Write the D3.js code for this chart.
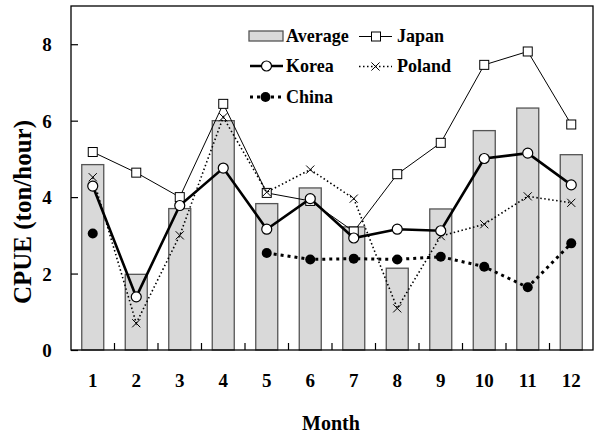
<!DOCTYPE html>
<html>
<head>
<meta charset="utf-8">
<script src="https://cdn.jsdelivr.net/npm/d3@7"></script>
<style>
  html, body { margin: 0; padding: 0; background: #fff; }
  svg { display: block; }
  text { font-family: "Liberation Serif", "Times New Roman", serif; font-weight: bold; fill: #000; }
</style>
</head>
<body>
<svg id="chart" width="594" height="434"></svg>
<script>
// Monthly CPUE (ton/hour) by fleet
const months = [1, 2, 3, 4, 5, 6, 7, 8, 9, 10, 11, 12];
const average = [4.85, 1.98, 3.7, 6.0, 3.83, 4.24, 3.22, 2.14, 3.69, 5.74, 6.33, 5.11];
const japan   = [5.18, 4.64, 4.0, 6.44, 4.11, 3.9, 3.1, 4.6, 5.42, 7.46, 7.81, 5.9];
const korea   = [4.29, 1.39, 3.78, 4.76, 3.16, 3.96, 2.93, 3.16, 3.12, 5.01, 5.15, 4.32];
const poland  = [4.52, 0.7, 3.0, 6.09, 4.13, 4.72, 3.96, 1.09, 2.98, 3.29, 4.02, 3.85];
const china   = [3.05, null, null, null, 2.54, 2.37, 2.39, 2.37, 2.44, 2.18, 1.64, 2.79];
const yTicks  = [0, 2, 4, 6, 8];

const svg = d3.select("#chart");
const plot = { left: 71, right: 593, top: 6, bottom: 350 };

const x = d3.scaleBand().domain(months).range([plot.left, plot.right]).paddingInner(0).paddingOuter(0);
const y = d3.scaleLinear().domain([0, 9]).range([plot.bottom, plot.top]);
const cx = m => x(m) + x.bandwidth() / 2;
const barW = 22;

// bars: Average
svg.append("g").selectAll("rect").data(months).join("rect")
  .attr("x", (m) => cx(m) - barW / 2)
  .attr("y", (m, i) => y(average[i]))
  .attr("width", barW)
  .attr("height", (m, i) => y(0) - y(average[i]))
  .attr("fill", "#d9d9d9")
  .attr("stroke", "#555")
  .attr("stroke-width", 1.3);

// frame
svg.append("rect")
  .attr("x", plot.left).attr("y", plot.top)
  .attr("width", plot.right - plot.left).attr("height", plot.bottom - plot.top)
  .attr("fill", "none").attr("stroke", "#000").attr("stroke-width", 1.3);

// y axis (ticks pointing inward)
const yAxis = svg.append("g")
  .attr("transform", `translate(${plot.left},0)`)
  .call(d3.axisRight(y).tickValues(yTicks).tickSize(7).tickFormat(""));
yAxis.select(".domain").remove();
yAxis.selectAll("line").attr("stroke", "#000").attr("stroke-width", 1.2);
svg.append("g").selectAll("text").data(yTicks).join("text")
  .attr("x", 47).attr("y", d => y(d) + 7)
  .attr("text-anchor", "middle")
  .attr("font-size", 19)
  .text(d => d);

// x axis: ticks at category boundaries pointing up, labels centered
const bounds = d3.range(1, months.length).map(i => plot.left + i * x.bandwidth());
svg.append("g").selectAll("line").data(bounds).join("line")
  .attr("x1", d => d).attr("x2", d => d)
  .attr("y1", plot.bottom).attr("y2", plot.bottom - 7)
  .attr("stroke", "#000").attr("stroke-width", 1.2);
svg.append("g").selectAll("text").data(months).join("text")
  .attr("x", m => cx(m)).attr("y", 387)
  .attr("text-anchor", "middle")
  .attr("font-size", 19)
  .text(m => m);

// axis titles
svg.append("text")
  .attr("x", 331).attr("y", 430)
  .attr("text-anchor", "middle").attr("font-size", 20)
  .text("Month");
svg.append("text")
  .attr("transform", "translate(31,212) rotate(-90)")
  .attr("text-anchor", "middle").attr("font-size", 25)
  .text("CPUE (ton/hour)");

const lineGen = vals => d3.line()
  .defined((m, i) => vals[i] !== null)
  .x(m => cx(m))
  .y((m, i) => y(vals[i]))(months);

// Japan
svg.append("path").attr("d", lineGen(japan))
  .attr("fill", "none").attr("stroke", "#000").attr("stroke-width", 1);
svg.append("g").selectAll("rect").data(months).join("rect")
  .attr("x", m => cx(m) - 4.5).attr("y", (m, i) => y(japan[i]) - 4.5)
  .attr("width", 9).attr("height", 9)
  .attr("fill", "#fff").attr("stroke", "#000").attr("stroke-width", 1);

// Poland
svg.append("path").attr("d", lineGen(poland))
  .attr("fill", "none").attr("stroke", "#000").attr("stroke-width", 1.6)
  .attr("stroke-dasharray", "1.5,2.5");
svg.append("g").selectAll("path").data(months).join("path")
  .attr("transform", (m, i) => `translate(${cx(m)},${y(poland[i])})`)
  .attr("d", d3.symbol().type(d3.symbolX).size(45))
  .attr("fill", "none").attr("stroke", "#000").attr("stroke-width", 1);

// China
svg.append("path").attr("d", lineGen(china))
  .attr("fill", "none").attr("stroke", "#000").attr("stroke-width", 3)
  .attr("stroke-dasharray", "3,4");
svg.append("g").selectAll("circle").data(months.filter((m, i) => china[i] !== null)).join("circle")
  .attr("cx", m => cx(m)).attr("cy", m => y(china[months.indexOf(m)]))
  .attr("r", 5).attr("fill", "#000");

// Korea
svg.append("path").attr("d", lineGen(korea))
  .attr("fill", "none").attr("stroke", "#000").attr("stroke-width", 2.6);
svg.append("g").selectAll("circle").data(months).join("circle")
  .attr("cx", m => cx(m)).attr("cy", (m, i) => y(korea[i]))
  .attr("r", 5).attr("fill", "#fff").attr("stroke", "#000").attr("stroke-width", 1.2);

// legend
const lg = svg.append("g");
const legendText = (xPos, yPos, label) => lg.append("text")
  .attr("transform", `translate(${xPos},${yPos}) scale(0.95,1)`)
  .attr("font-size", 19).text(label);
// Average
lg.append("rect").attr("x", 249).attr("y", 31).attr("width", 34).attr("height", 10)
  .attr("fill", "#d9d9d9").attr("stroke", "#555").attr("stroke-width", 1.3);
legendText(286, 42, "Average");
// Japan
lg.append("line").attr("x1", 359).attr("x2", 392).attr("y1", 36.5).attr("y2", 36.5)
  .attr("stroke", "#000").attr("stroke-width", 1);
lg.append("rect").attr("x", 371.5).attr("y", 32).attr("width", 9).attr("height", 9)
  .attr("fill", "#fff").attr("stroke", "#000").attr("stroke-width", 1);
legendText(397, 42, "Japan");
// Korea
lg.append("line").attr("x1", 250).attr("x2", 283).attr("y1", 66).attr("y2", 66)
  .attr("stroke", "#000").attr("stroke-width", 2.6);
lg.append("circle").attr("cx", 266.5).attr("cy", 66).attr("r", 5)
  .attr("fill", "#fff").attr("stroke", "#000").attr("stroke-width", 1.2);
legendText(286, 72, "Korea");
// Poland
lg.append("line").attr("x1", 359).attr("x2", 392).attr("y1", 66.5).attr("y2", 66.5)
  .attr("stroke", "#000").attr("stroke-width", 1.6).attr("stroke-dasharray", "1.5,2.5");
lg.append("path").attr("transform", "translate(375.5,66.5)")
  .attr("d", d3.symbol().type(d3.symbolX).size(45))
  .attr("fill", "none").attr("stroke", "#000").attr("stroke-width", 1);
legendText(397, 72, "Poland");
// China
lg.append("line").attr("x1", 250).attr("x2", 283).attr("y1", 97).attr("y2", 97)
  .attr("stroke", "#000").attr("stroke-width", 3).attr("stroke-dasharray", "3,4");
lg.append("circle").attr("cx", 265.5).attr("cy", 97).attr("r", 5).attr("fill", "#000");
legendText(286, 103, "China");
</script>
</body>
</html>
